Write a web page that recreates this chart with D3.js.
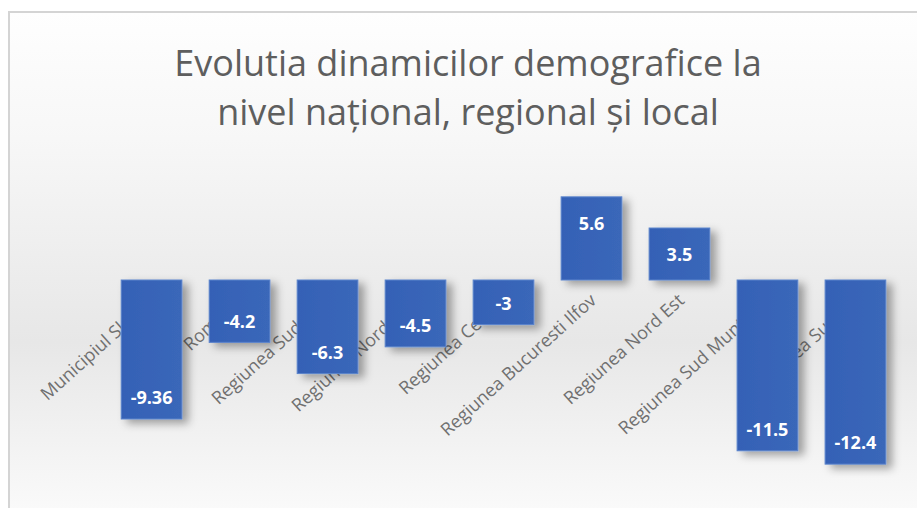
<!DOCTYPE html>
<html>
<head>
<meta charset="utf-8">
<script src="https://cdn.jsdelivr.net/npm/d3@7"></script>
<style>
  body { margin: 0; background: #fff; }
</style>
</head>
<body>
<div id="container"></div>
<script>
/* CONSTANTS AND GLOBALS */
const width = 917,
  height = 508

const titleLines = ["Evolutia dinamicilor demografice la", "nivel național, regional și local"]
const categories = [
  "Municipiul Slatina", "Romania", "Regiunea Sud Vest", "Regiunea Nord Vest",
  "Regiunea Centru", "Regiunea Bucuresti Ilfov", "Regiunea Nord Est",
  "Regiunea Sud Muntenia", "Regiunea Sud Est"
]
const values = [-9.36, -4.2, -6.3, -4.5, -3, 5.6, 3.5, -11.5, -12.4]
const valueLabels = ["-9.36", "-4.2", "-6.3", "-4.5", "-3", "5.6", "3.5", "-11.5", "-12.4"]

const data = categories.map((c, i) => ({ cat: c, value: values[i], label: valueLabels[i] }))

const svg = d3.select("#container")
  .append("svg")
  .attr("width", width)
  .attr("height", height)

const defs = svg.append("defs")

const bg = defs.append("linearGradient")
  .attr("id", "bg")
  .attr("x1", 0).attr("y1", 0).attr("x2", 0).attr("y2", 1)
bg.append("stop").attr("offset", "0%").attr("stop-color", "#fefefe")
bg.append("stop").attr("offset", "25%").attr("stop-color", "#f7f7f7")
bg.append("stop").attr("offset", "65%").attr("stop-color", "#e7e7e7")
bg.append("stop").attr("offset", "100%").attr("stop-color", "#fbfbfb")

const barGrad = defs.append("linearGradient")
  .attr("id", "barGrad")
  .attr("x1", 0).attr("y1", 0).attr("x2", 1).attr("y2", 0)
barGrad.append("stop").attr("offset", "0%").attr("stop-color", "#3561b6")
barGrad.append("stop").attr("offset", "100%").attr("stop-color", "#3a67b9")

const shadow = defs.append("filter")
  .attr("id", "shadow")
  .attr("x", "-30%").attr("y", "-30%")
  .attr("width", "160%").attr("height", "160%")
shadow.append("feDropShadow")
  .attr("dx", 6).attr("dy", 4)
  .attr("stdDeviation", 4)
  .attr("flood-color", "#000")
  .attr("flood-opacity", 0.35)

// chart frame
svg.append("rect")
  .attr("x", 9).attr("y", 12)
  .attr("width", width + 10).attr("height", height)
  .attr("fill", "url(#bg)")
  .attr("stroke", "#d4d4d4")
  .attr("stroke-width", 2)

/* SCALES */
const xScale = d3.scaleBand()
  .domain(categories)
  .range([108, 899])
  .paddingInner(0.31)
  .paddingOuter(0.15)

const yScale = d3.scaleLinear()
  .domain([-14, 8])
  .range([280 + 14 * 14.85, 280 - 8 * 14.85])

/* TITLE */
svg.append("g")
  .attr("class", "title")
  .selectAll("text")
  .data(titleLines)
  .join("text")
  .attr("x", 468)
  .attr("y", (d, i) => 76 + i * 49)
  .attr("text-anchor", "middle")
  .attr("font-family", "Open Sans, sans-serif")
  .attr("font-size", "36px")
  .attr("fill", "#5e5e5e")
  .text(d => d)

/* CATEGORY LABELS (drawn under the bars) */
svg.append("g")
  .attr("class", "cat-labels")
  .selectAll("text")
  .data(data)
  .join("text")
  .attr("transform", d => `translate(${xScale(d.cat) + xScale.bandwidth() / 2 + 6}, ${yScale(0) + 22}) rotate(-42)`)
  .attr("text-anchor", "end")
  .attr("font-family", "Open Sans, sans-serif")
  .attr("font-size", "18px")
  .attr("fill", "#707070")
  .text(d => d.cat)

/* BARS */
svg.append("g")
  .attr("class", "bars")
  .selectAll("rect")
  .data(data)
  .join("rect")
  .attr("x", d => xScale(d.cat))
  .attr("y", d => yScale(Math.max(0, d.value)))
  .attr("width", xScale.bandwidth())
  .attr("height", d => Math.abs(yScale(d.value) - yScale(0)))
  .attr("fill", "url(#barGrad)")
  .attr("stroke", "#5b84cc")
  .attr("stroke-width", 1)
  .attr("filter", "url(#shadow)")

/* VALUE LABELS */
svg.append("g")
  .attr("class", "values")
  .selectAll("text")
  .data(data)
  .join("text")
  .attr("x", d => xScale(d.cat) + xScale.bandwidth() / 2)
  .attr("y", d => d.value >= 0 ? yScale(d.value) + 27 : yScale(d.value) - 21)
  .attr("dy", "0.35em")
  .attr("text-anchor", "middle")
  .attr("font-family", "Open Sans, sans-serif")
  .attr("font-weight", "bold")
  .attr("font-size", "18px")
  .attr("fill", "#ffffff")
  .text(d => d.label)
</script>
</body>
</html>
